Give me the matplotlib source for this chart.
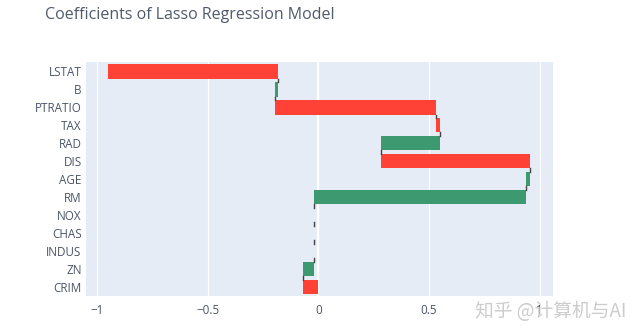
import numpy as np
import matplotlib.pyplot as plt

plt.rcParams['font.family'] = ['Open Sans', 'DejaVu Sans']

# lasso coefficients, bottom to top
features = ['CRIM', 'ZN', 'INDUS', 'CHAS', 'NOX', 'RM', 'AGE', 'DIS',
            'RAD', 'TAX', 'PTRATIO', 'B', 'LSTAT']
coefs = [-0.070, 0.050, 0.0, 0.0, 0.0, 0.957, 0.020, -0.673,
         0.268, -0.018, -0.728, 0.012, -0.766]
xticks = [-1, -0.5, 0, 0.5, 1]
xtick_labels = ['\u22121', '\u22120.5', '0', '0.5', '1']

coefs = np.array(coefs)
ends = np.cumsum(coefs)
starts = ends - coefs
pos = np.arange(len(features))
colors = ['#3D9970' if c >= 0 else '#FF4136' for c in coefs]

fig = plt.figure(figsize=(6.4, 3.36), dpi=100)
ax = fig.add_axes([0.134, 0.119, 0.730, 0.696])
ax.set_facecolor('#E5ECF6')

h = 0.82
ax.barh(pos, coefs, left=starts, height=h, color=colors, zorder=3)

# waterfall connectors between consecutive bars
for i in range(len(features) - 1):
    ax.plot([ends[i], ends[i]], [pos[i] + h / 2, pos[i + 1] - h / 2],
            color='#444444', lw=1, zorder=4)

ax.set_xlim(-1.05, 1.06)
ax.set_ylim(-0.5, len(features) - 0.5)
ax.set_xticks(xticks)
ax.set_xticklabels(xtick_labels)
ax.set_yticks(pos)
ax.set_yticklabels(features)
ax.grid(axis='x', color='white', lw=0.9, zorder=1)
ax.axvline(0, color='white', lw=1.6, zorder=2)
ax.tick_params(length=0, labelsize=8.4, colors='#4a5568')
ax.tick_params(axis='x', pad=6)
ax.tick_params(axis='y', pad=3)
for s in ax.spines.values():
    s.set_visible(False)

fig.text(0.071, 0.955, 'Coefficients of Lasso Regression Model',
         fontsize=11.5, color='#4f5a6b', va='center', ha='left')

fig.text(0.978, 0.072, '知乎 @计算机与AI', fontsize=13.5, color='#cccccc',
         ha='right', va='center', family=['Noto Sans CJK SC', 'DejaVu Sans'],
         zorder=5)

fig.savefig('out.png', dpi=100)
